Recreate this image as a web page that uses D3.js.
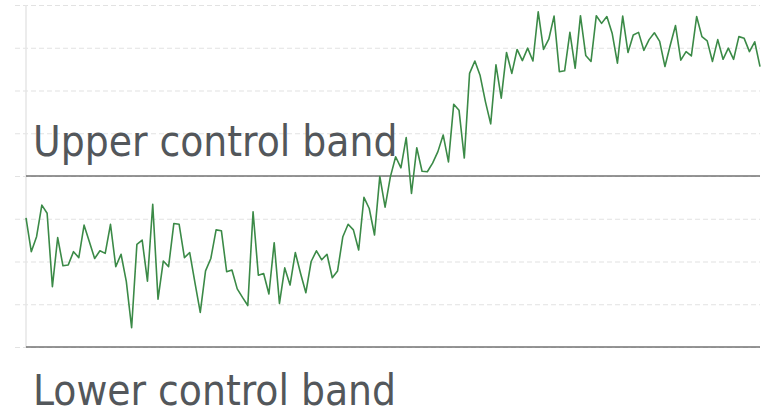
<!DOCTYPE html>
<html>
<head>
<meta charset="utf-8">
<script src="https://cdn.jsdelivr.net/npm/d3@7"></script>
<style>
  html, body { margin: 0; padding: 0; background: #ffffff; }
  svg { display: block; }
  .band-label { font-family: "DejaVu Sans Condensed", "DejaVu Sans", sans-serif; font-stretch: condensed; fill: #53575b; }
</style>
</head>
<body>
<svg id="chart" width="769" height="411"></svg>
<script>
// ---- data ----
const values = [
  30.2, 22.3, 25.8, 33.2, 31.3, 14.1, 25.6, 19.0, 19.2, 22.3,
  20.9, 28.5, 24.6, 20.7, 22.5, 21.9, 28.7, 18.8, 21.7, 15.3,
  4.5, 24.0, 25.0, 15.4, 33.4, 11.2, 20.1, 18.8, 28.9, 28.7,
  20.9, 22.1, 15.0, 8.1, 17.8, 20.7, 27.4, 27.2, 17.6, 18.0,
  13.6, 11.6, 9.7, 31.6, 16.8, 17.2, 12.4, 24.4, 10.2, 18.5,
  14.5, 22.1, 17.2, 12.7, 20.0, 22.5, 20.4, 21.7, 16.2, 17.8,
  25.8, 28.7, 27.4, 22.7, 35.0, 32.4, 26.2, 39.9, 32.7, 39.8,
  44.5, 41.9, 49.0, 35.9, 46.6, 41.1, 41.0, 43.0, 45.7, 49.6,
  43.3, 56.8, 55.4, 44.2, 64.0, 66.9, 63.5, 57.4, 52.2, 66.0,
  58.2, 68.9, 64.0, 69.6, 67.0, 69.9, 66.9, 78.4, 69.6, 72.0,
  77.4, 64.4, 64.6, 73.6, 65.2, 77.5, 68.2, 66.8, 77.5, 75.7,
  77.3, 73.4, 66.4, 77.4, 68.9, 73.0, 73.6, 69.4, 71.9, 73.5,
  71.5, 65.6, 70.6, 75.2, 67.1, 69.1, 68.1, 77.3, 72.6, 71.6,
  66.8, 71.9, 67.3, 69.9, 67.3, 72.6, 72.2, 69.1, 71.4, 65.6
];
const yTicks = [0, 10, 20, 30, 40, 50, 60, 70, 80];
const upperBand = 40;
const lowerBand = 0;
const upperLabel = "Upper control band";
const lowerLabel = "Lower control band";

// ---- layout ----
const W = 769, H = 411;
const margin = { top: 5, right: 9, bottom: 64, left: 26 };
const svg = d3.select("#chart");

const x = d3.scaleLinear().domain([0, values.length - 1]).range([margin.left, W - margin.right]);
const y = d3.scaleLinear().domain([0, 80]).range([H - margin.bottom, margin.top]);

// gridlines (dashed) via axis
const yAxis = d3.axisRight(y)
  .tickValues(yTicks)
  .tickSize(W - margin.right - margin.left + 11)
  .tickFormat("");
const gAxis = svg.append("g")
  .attr("transform", `translate(${margin.left - 11},0)`)
  .call(yAxis);
gAxis.select(".domain").remove();
gAxis.selectAll(".tick line")
  .attr("stroke", "#e2e2e2")
  .attr("stroke-width", 1.2)
  .attr("stroke-dasharray", "5,3");

// vertical axis line
svg.append("line")
  .attr("x1", margin.left).attr("x2", margin.left)
  .attr("y1", y(80)).attr("y2", y(0))
  .attr("stroke", "#e6e6e6")
  .attr("stroke-width", 1.5);

// control band lines
[upperBand, lowerBand].forEach(v => {
  svg.append("line")
    .attr("x1", margin.left).attr("x2", W - margin.right)
    .attr("y1", y(v)).attr("y2", y(v))
    .attr("stroke", "#727272")
    .attr("stroke-width", 1.5);
});

// data line
const line = d3.line().x((d, i) => x(i)).y(d => y(d));
svg.append("path")
  .datum(values)
  .attr("fill", "none")
  .attr("stroke", "#3b8a47")
  .attr("stroke-width", 1.6)
  .attr("stroke-linejoin", "round")
  .attr("d", line);

// labels
svg.append("text").attr("class", "band-label")
  .attr("x", 33).attr("y", 156)
  .attr("font-size", 42)
  .text(upperLabel);
svg.append("text").attr("class", "band-label")
  .attr("x", 33).attr("y", 405)
  .attr("font-size", 42)
  .text(lowerLabel);
</script>
</body>
</html>
